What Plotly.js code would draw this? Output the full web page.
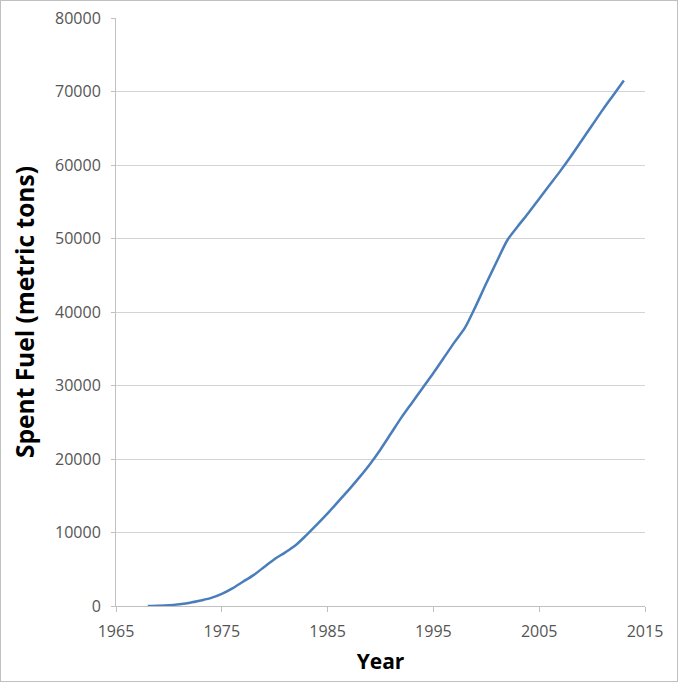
<!DOCTYPE html>
<html>
<head>
<meta charset="utf-8">
<script src="https://cdn.plot.ly/plotly-3.0.1.min.js"></script>
<style>
html,body{margin:0;padding:0;background:#fff;}
#chart{width:676px;height:680px;border:1px solid #c0c0c0;}
</style>
</head>
<body>
<div id="chart"></div>
<script>
const years = [1968,1969,1970,1971,1972,1973,1974,1975,1976,1977,1978,1979,1980,1981,1982,1983,1984,1985,1986,1987,1988,1989,1990,1991,1992,1993,1994,1995,1996,1997,1998,1999,2000,2001,2002,2003,2004,2005,2006,2007,2008,2009,2010,2011,2012,2013];
const spentFuel = [0,30,100,250,450,750,1100,1650,2400,3300,4200,5300,6400,7300,8300,9650,11100,12600,14200,15800,17500,19300,21300,23500,25700,27700,29700,31700,33800,35900,37900,40800,43900,46900,49800,51700,53500,55400,57300,59200,61200,63300,65400,67500,69500,71500];
const xTicks = [1965,1975,1985,1995,2005,2015];
const yTicks = [0,10000,20000,30000,40000,50000,60000,70000,80000];

const trace = {
  x: years, y: spentFuel, type: 'scatter', mode: 'lines',
  line: {color: '#4a7ebb', width: 2.5, shape: 'spline', smoothing: 0.8},
  hoverinfo: 'skip'
};

const layout = {
  width: 676, height: 680,
  margin: {l: 115, r: 32, t: 17, b: 75},
  paper_bgcolor: '#fff', plot_bgcolor: '#fff',
  showlegend: false,
  font: {family: 'Open Sans, Liberation Sans, sans-serif', color: '#595959'},
  xaxis: {
    range: [1965, 2015], tickvals: xTicks, ticktext: xTicks.map(String),
    showgrid: false, zeroline: false,
    showline: true, linecolor: '#c0c0c0', linewidth: 1,
    ticks: 'outside', ticklen: 5, tickcolor: '#c0c0c0',
    ticklabelstandoff: 6,
    tickfont: {size: 16, color: '#555555'},
    title: {text: 'Year', font: {size: 21, color: '#000', family: 'Open Sans, sans-serif', weight: 'bold'}, standoff: 13}
  },
  yaxis: {
    range: [0, 80000], tickvals: yTicks, ticktext: yTicks.map(String),
    showgrid: true, gridcolor: '#d4d4d4', gridwidth: 1, zeroline: false,
    showline: true, linecolor: '#c0c0c0', linewidth: 1,
    ticks: 'outside', ticklen: 4, tickcolor: '#c0c0c0',
    ticklabelstandoff: 7,
    tickfont: {size: 16, color: '#555555'},
    title: {text: 'Spent Fuel (metric tons)', font: {size: 24.5, color: '#000', family: 'Open Sans, sans-serif', weight: 'bold'}, standoff: 13}
  }
};

Plotly.newPlot('chart', [trace], layout, {displayModeBar: false, staticPlot: true});
</script>
</body>
</html>
